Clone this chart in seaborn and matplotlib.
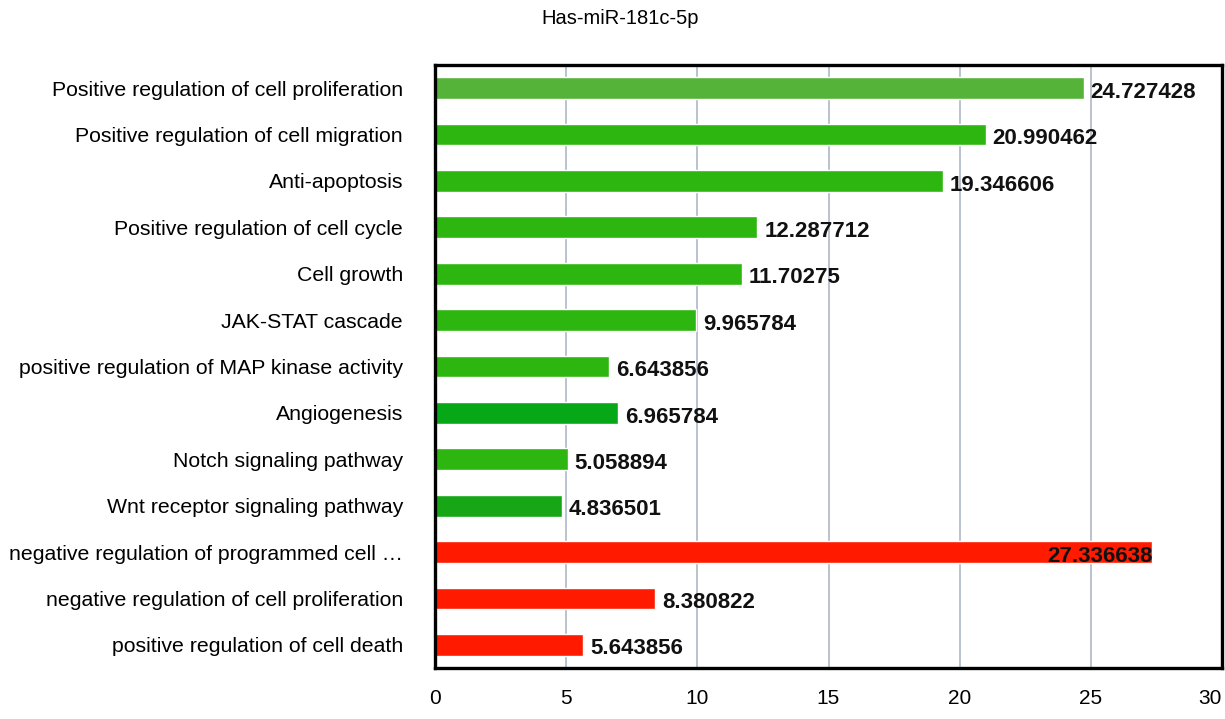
import matplotlib
matplotlib.use('Agg')
import matplotlib.pyplot as plt
import seaborn as sns
import numpy as np
import pandas as pd

categories = [
    'Positive regulation of cell proliferation',
    'Positive regulation of cell migration',
    'Anti-apoptosis',
    'Positive regulation of cell cycle',
    'Cell growth',
    'JAK-STAT cascade',
    'positive regulation of MAP kinase activity',
    'Angiogenesis',
    'Notch signaling pathway',
    'Wnt receptor signaling pathway',
    'negative regulation of programmed cell \u2026',
    'negative regulation of cell proliferation',
    'positive regulation of cell death',
]
values = [24.727428, 20.990462, 19.346606, 12.287712, 11.70275, 9.965784,
          6.643856, 6.965784, 5.058894, 4.836501, 27.336638, 8.380822, 5.643856]
value_labels = ['24.727428', '20.990462', '19.346606', '12.287712', '11.70275',
                '9.965784', '6.643856', '6.965784', '5.058894', '4.836501',
                '27.336638', '8.380822', '5.643856']
bar_colors = ['#56b33a', '#2db60f', '#2db60f', '#2db60f', '#2db60f', '#2db60f',
              '#2db60f', '#07a818', '#2db60f', '#17a716', '#ff1a00', '#ff1a00',
              '#ff1a00']
title = 'Has-miR-181c-5p'
x_ticks = [0, 5, 10, 15, 20, 25, 30]

sns.set_style('white')
plt.rcParams['font.family'] = ['Liberation Sans', 'DejaVu Sans']
plt.rcParams['text.color'] = 'black'
plt.rcParams['xtick.labelcolor'] = 'black'
plt.rcParams['ytick.labelcolor'] = 'black'

df = pd.DataFrame({'term': categories, 'score': values})

fig = plt.figure(figsize=(12.25, 7.19), dpi=100)
ax = fig.add_axes([435 / 1225, 1 - 668 / 719, 787 / 1225, 603 / 719])

grid_col = '#b9c3cf'
for t in x_ticks[1:-1]:
    ax.axvline(t, color=grid_col, lw=1.4, zorder=0)

sns.barplot(data=df, x='score', y='term', hue='term', palette=bar_colors,
            legend=False, width=0.47, orient='h', ax=ax, saturation=1,
            zorder=2)

for i, (v, lab) in enumerate(zip(values, value_labels)):
    if v > 27:
        ax.annotate(lab, (v, i), xytext=(0, -3), textcoords='offset points',
                    ha='right', va='center', fontsize=16, fontweight='bold',
                    color='#111111', zorder=3)
    else:
        ax.annotate(lab, (v, i), xytext=(5, -3), textcoords='offset points',
                    ha='left', va='center', fontsize=16, fontweight='bold',
                    color='#111111', zorder=3)

ax.set_xlim(0, 30)
ax.set_ylim(len(categories) - 0.5, -0.5)
ax.set_xticks(x_ticks)
ax.set_xticklabels([str(t) for t in x_ticks], fontsize=15)
ax.get_xticklabels()[-1].set_horizontalalignment('right')
ax.tick_params(axis='x', direction='out', length=7, width=1.4,
               color=grid_col, pad=8)
ax.set_yticks(range(len(categories)))
ax.set_yticklabels(categories, fontsize=15.3)
ax.set_yticks(np.arange(-0.5, len(categories)), minor=True)
ax.tick_params(axis='y', which='major', length=0, pad=23)
ax.tick_params(axis='y', which='minor', direction='out', length=11,
               width=1.4, color=grid_col)
ax.set_xlabel('')
ax.set_ylabel('')

for s in ax.spines.values():
    s.set_visible(True)
    s.set_color('black')
    s.set_linewidth(2.4)
    s.set_zorder(4)

fig.text(620 / 1225, 1 - 18 / 719, title, ha='center', va='center',
         fontsize=14.5)

fig.savefig('out.png', dpi=100)
